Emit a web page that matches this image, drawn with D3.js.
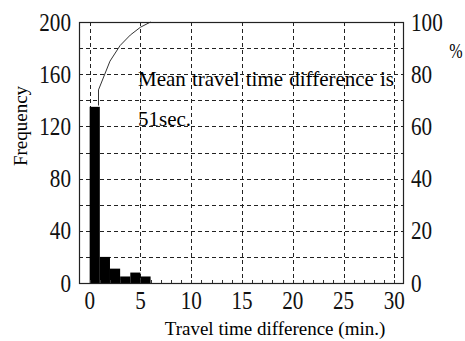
<!DOCTYPE html>
<html>
<head>
<meta charset="utf-8">
<script src="https://cdn.jsdelivr.net/npm/d3@7"></script>
<style>
  body { margin: 0; background: #fff; }
</style>
</head>
<body>
<div id="chart"></div>
<script>
// histogram bins (min) and frequencies
const binStarts = [0, 1, 2, 3, 4, 5];
const binWidth = 1;
const frequency = [135, 20, 11, 5, 8, 5];

// cumulative percentage curve
const cumMinutes = [0.87, 0.87, 2, 3, 4, 5, 6];
const cumPercent = [68, 74, 85, 91, 95, 98, 100];

const xTicks = [0, 5, 10, 15, 20, 25, 30];
const xMinorTicks = d3.range(0, 31, 1);
const yGrid = d3.range(0, 201, 20);
const yTicks = [0, 40, 80, 120, 160, 200];
const pctTicks = [0, 20, 40, 60, 80, 100];

const noteWords = ["Mean", "travel", "time", "difference", "is"];
const noteLine2 = "51sec.";

const width = 465, height = 341;
const plot = {left: 79, right: 403, top: 22, bottom: 283};
const serif = "'Liberation Serif', 'Times New Roman', 'DejaVu Serif', serif";

const svg = d3.select("#chart").append("svg")
    .attr("width", width)
    .attr("height", height)
    .attr("font-family", serif)
    .style("font-family", serif);

// scales
const x = d3.scaleLinear().domain([-1.05, 30.85]).range([plot.left, plot.right]);
const y = d3.scaleLinear().domain([0, 200]).range([plot.bottom, plot.top]);
const yPct = d3.scaleLinear().domain([0, 100]).range([plot.bottom, plot.top]);

// dashed grid
const grid = svg.append("g").attr("stroke", "#222").attr("stroke-width", 1)
    .attr("stroke-dasharray", "4,3");
grid.selectAll("line.h").data(yGrid.filter(d => d > 0 && d < 200)).enter()
    .append("line")
    .attr("x1", plot.left).attr("x2", plot.right)
    .attr("y1", d => Math.round(y(d)) + 0.5).attr("y2", d => Math.round(y(d)) + 0.5);
grid.selectAll("line.v").data(xTicks).enter()
    .append("line")
    .attr("x1", d => Math.round(x(d)) + 0.5).attr("x2", d => Math.round(x(d)) + 0.5)
    .attr("y1", plot.top).attr("y2", plot.bottom);

// bars
svg.append("g").selectAll("rect").data(frequency).enter()
    .append("rect")
    .attr("x", (d, i) => x(binStarts[i]))
    .attr("width", (d, i) => x(binStarts[i] + binWidth) - x(binStarts[i]))
    .attr("y", d => y(d))
    .attr("height", d => y(0) - y(d))
    .attr("fill", "#000");

// cumulative curve
const line = d3.line()
    .x((d, i) => x(cumMinutes[i]))
    .y(d => yPct(d));
svg.append("path")
    .attr("d", line(cumPercent))
    .attr("fill", "none")
    .attr("stroke", "#333")
    .attr("stroke-width", 1);

// minor ticks on x axis (inward)
svg.append("g").selectAll("line").data(xMinorTicks).enter()
    .append("line")
    .attr("x1", d => Math.round(x(d)) + 0.5).attr("x2", d => Math.round(x(d)) + 0.5)
    .attr("y1", plot.bottom).attr("y2", plot.bottom - 3)
    .attr("stroke", "#333");

// frame
svg.append("rect")
    .attr("x", plot.left + 0.5).attr("y", plot.top + 0.5)
    .attr("width", plot.right - plot.left).attr("height", plot.bottom - plot.top)
    .attr("fill", "none").attr("stroke", "#222").attr("stroke-width", 1.2);

// tick labels (tall, narrow digits like the original)
function tallText(sel) {
    return sel.style("font-size", "23px").attr("fill", "#111");
}

tallText(svg.append("g").selectAll("text").data(yTicks).enter()
    .append("text")
    .attr("transform", d => `translate(${plot.left - 8},${y(d)}) scale(0.92,1.08)`)
    .attr("dy", "0.35em")
    .attr("text-anchor", "end")
    .text(d => d));

tallText(svg.append("g").selectAll("text").data(pctTicks).enter()
    .append("text")
    .attr("transform", d => `translate(${plot.right + 8},${yPct(d)}) scale(0.92,1.08)`)
    .attr("dy", "0.35em")
    .text(d => d));

tallText(svg.append("g").selectAll("text").data(xTicks).enter()
    .append("text")
    .attr("transform", d => `translate(${x(d)},${plot.bottom + 17}) scale(0.92,1.08)`)
    .attr("dy", "0.35em")
    .attr("text-anchor", "middle")
    .text(d => d));

svg.append("text")
    .attr("transform", "translate(456,50) scale(0.8,1.1)")
    .attr("dy", "0.35em")
    .attr("text-anchor", "middle")
    .style("font-size", "20px")
    .text("%");

// axis titles
svg.append("text")
    .attr("x", 275).attr("y", 335)
    .attr("text-anchor", "middle")
    .style("font-size", "19px")
    .text("Travel time difference (min.)");

svg.append("text")
    .attr("transform", "translate(27,126) rotate(-90)")
    .attr("text-anchor", "middle")
    .style("font-size", "19px")
    .text("Frequency");

// annotation, justified between two x positions
const noteLeft = 138, noteRight = 394;
const note = svg.append("g").style("font-size", "21px");
const words = note.selectAll("text").data(noteWords).enter()
    .append("text")
    .attr("y", 86)
    .text(d => d);
const widths = [];
words.each(function() { widths.push(this.getComputedTextLength()); });
const gap = (noteRight - noteLeft - d3.sum(widths)) / (noteWords.length - 1);
let cursor = noteLeft;
words.attr("x", (d, i) => {
    const pos = cursor;
    cursor += widths[i] + gap;
    return pos;
});
note.append("text")
    .attr("x", noteLeft).attr("y", 126)
    .text(noteLine2);
</script>
</body>
</html>
